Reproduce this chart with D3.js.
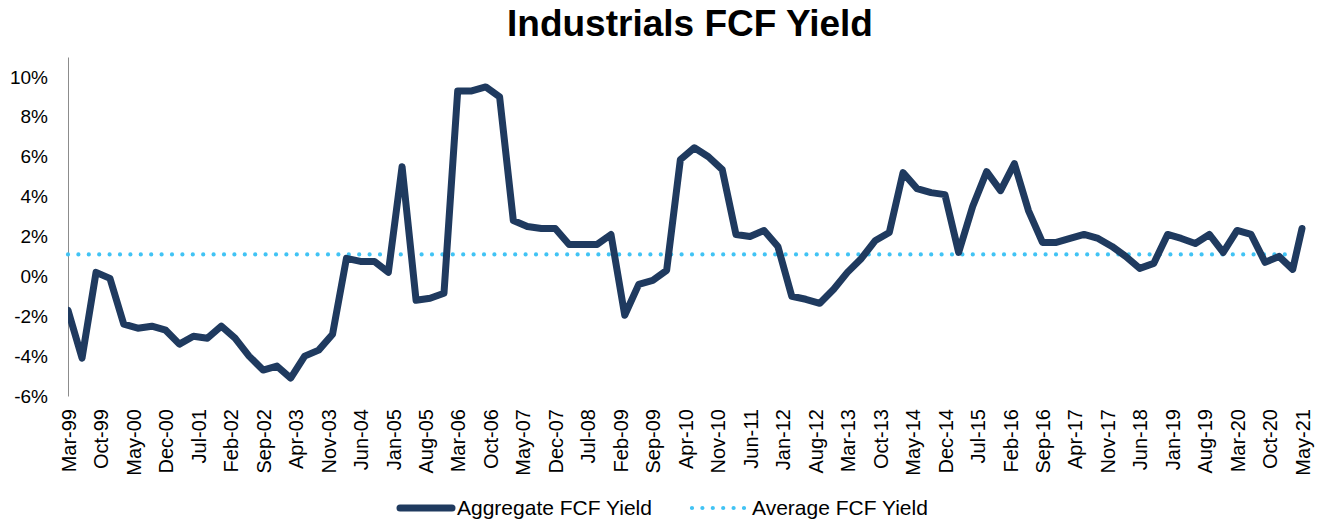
<!DOCTYPE html>
<html>
<head>
<meta charset="utf-8">
<script src="https://cdn.jsdelivr.net/npm/d3@7"></script>
<style>
  body { margin: 0; background: #fff; }
  text { font-family: "Liberation Sans", Arial, sans-serif; fill: #000; }
</style>
</head>
<body>
<svg></svg>
<script>
// размеры окна
const width = 1318;
const height = 522;

// данные: квартальные точки + последняя (май 2021)
const dates = [
  "Mar-99","Jun-99","Sep-99","Dec-99","Mar-00","Jun-00","Sep-00","Dec-00",
  "Mar-01","Jun-01","Sep-01","Dec-01","Mar-02","Jun-02","Sep-02","Dec-02",
  "Mar-03","Jun-03","Sep-03","Dec-03","Mar-04","Jun-04","Sep-04","Dec-04",
  "Mar-05","Jun-05","Sep-05","Dec-05","Mar-06","Jun-06","Sep-06","Dec-06",
  "Mar-07","Jun-07","Sep-07","Dec-07","Mar-08","Jun-08","Sep-08","Dec-08",
  "Mar-09","Jun-09","Sep-09","Dec-09","Mar-10","Jun-10","Sep-10","Dec-10",
  "Mar-11","Jun-11","Sep-11","Dec-11","Mar-12","Jun-12","Sep-12","Dec-12",
  "Mar-13","Jun-13","Sep-13","Dec-13","Mar-14","Jun-14","Sep-14","Dec-14",
  "Mar-15","Jun-15","Sep-15","Dec-15","Mar-16","Jun-16","Sep-16","Dec-16",
  "Mar-17","Jun-17","Sep-17","Dec-17","Mar-18","Jun-18","Sep-18","Dec-18",
  "Mar-19","Jun-19","Sep-19","Dec-19","Mar-20","Jun-20","Sep-20","Dec-20",
  "Mar-21","May-21"
];

const aggregateYield = [
  -1.7, -4.1, 0.2, -0.1, -2.4, -2.6, -2.5, -2.7,
  -3.4, -3.0, -3.1, -2.5, -3.1, -4.0, -4.7, -4.5,
  -5.1, -4.0, -3.7, -2.9, 0.9, 0.75, 0.75, 0.2,
  5.5, -1.2, -1.1, -0.85, 9.3, 9.3, 9.5, 9.0,
  2.8, 2.5, 2.4, 2.4, 1.6, 1.6, 1.6, 2.1,
  -1.95, -0.4, -0.2, 0.3, 5.85, 6.45, 6.0, 5.35,
  2.1, 2.0, 2.3, 1.5, -1.0, -1.15, -1.35, -0.65,
  0.2, 0.9, 1.8, 2.2, 5.2, 4.4, 4.2, 4.1,
  1.2, 3.5, 5.25, 4.3, 5.65, 3.3, 1.7, 1.7,
  1.9, 2.1, 1.9, 1.5, 1.0, 0.4, 0.65, 2.1,
  1.9, 1.65, 2.1, 1.2, 2.3, 2.1, 0.7, 1.0,
  0.35, 2.4
];

const averageYield = 1.1;

const xTickLabels = [
  "Mar-99","Oct-99","May-00","Dec-00","Jul-01","Feb-02","Sep-02","Apr-03",
  "Nov-03","Jun-04","Jan-05","Aug-05","Mar-06","Oct-06","May-07","Dec-07",
  "Jul-08","Feb-09","Sep-09","Apr-10","Nov-10","Jun-11","Jan-12","Aug-12",
  "Mar-13","Oct-13","May-14","Dec-14","Jul-15","Feb-16","Sep-16","Apr-17",
  "Nov-17","Jun-18","Jan-19","Aug-19","Mar-20","Oct-20","May-21"
];

const yTicks = [-6, -4, -2, 0, 2, 4, 6, 8, 10];

const parse = d3.timeParse("%b-%y");

let svg = d3.select("svg")
    .attr("width", width)
    .attr("height", height);

// шкалы
const x = d3.scaleTime()
    .domain([parse("Mar-99"), parse("May-21")])
    .range([68, 1302]);

const y = d3.scaleLinear()
    .domain([-6, 11])
    .range([396, 57]);

// обрезка слева по оси
svg.append("clipPath")
    .attr("id", "plotClip")
    .append("rect")
    .attr("x", 68).attr("y", 0)
    .attr("width", width - 68).attr("height", height);

// заголовок
svg.append("text")
    .attr("x", 690)
    .attr("y", 36)
    .attr("text-anchor", "middle")
    .style("font-size", "37px")
    .style("font-weight", "bold")
    .text("Industrials FCF Yield");

// ось Y
const yAxis = svg.append("g")
    .attr("transform", "translate(68,0)")
    .call(d3.axisLeft(y)
        .tickValues(yTicks)
        .tickSize(0)
        .tickPadding(20)
        .tickFormat(d => d + "%"));
yAxis.select(".domain")
    .attr("stroke", "#8c8c8c")
    .attr("stroke-width", 1);
yAxis.selectAll("text")
    .style("font-size", "19px")
    .attr("fill", "#000");

// ось X - подписи повернуты
const xAxis = svg.append("g")
    .attr("transform", "translate(0,396)")
    .call(d3.axisBottom(x)
        .tickValues(xTickLabels.map(parse))
        .tickSize(0)
        .tickFormat(d3.timeFormat("%b-%y")));
xAxis.select(".domain").remove();
xAxis.selectAll("text")
    .style("font-size", "20px")
    .attr("fill", "#000")
    .attr("text-anchor", "end")
    .attr("transform", "rotate(-90)")
    .attr("x", -13)
    .attr("y", 0)
    .attr("dy", "0.36em");

// средняя линия
svg.append("line")
    .attr("x1", x(parse("Mar-99")))
    .attr("x2", x(parse("May-21")))
    .attr("y1", y(averageYield))
    .attr("y2", y(averageYield))
    .attr("stroke", "#41c3f4")
    .attr("stroke-width", 4.2)
    .attr("stroke-linecap", "round")
    .attr("stroke-dasharray", "0 10.4");

// основная линия
const line = d3.line()
    .x((d, i) => x(parse(dates[i])))
    .y(d => y(d));

svg.append("path")
    .attr("d", line(aggregateYield))
    .attr("clip-path", "url(#plotClip)")
    .attr("fill", "none")
    .attr("stroke", "#1f3a5f")
    .attr("stroke-width", 7)
    .attr("stroke-linejoin", "round")
    .attr("stroke-linecap", "round");

// легенда
let legend = svg.append("g");
legend.append("line")
    .attr("x1", 400).attr("x2", 452)
    .attr("y1", 508).attr("y2", 508)
    .attr("stroke", "#1f3a5f")
    .attr("stroke-width", 7)
    .attr("stroke-linecap", "round");
legend.append("text")
    .attr("x", 457).attr("y", 515)
    .style("font-size", "21px")
    .text("Aggregate FCF Yield");
legend.append("line")
    .attr("x1", 692).attr("x2", 748)
    .attr("y1", 508).attr("y2", 508)
    .attr("stroke", "#41c3f4")
    .attr("stroke-width", 4.2)
    .attr("stroke-linecap", "round")
    .attr("stroke-dasharray", "0 10.4");
legend.append("text")
    .attr("x", 752).attr("y", 515)
    .style("font-size", "21px")
    .text("Average FCF Yield");
</script>
</body>
</html>
